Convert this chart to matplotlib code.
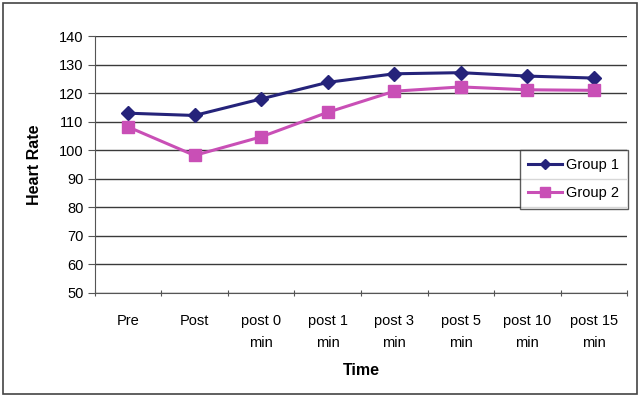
import numpy as np
import matplotlib.pyplot as plt
from matplotlib.patches import Rectangle

plt.rcParams['font.family'] = ['Liberation Sans', 'DejaVu Sans']

times = ['Pre', 'Post', 'post 0\nmin', 'post 1\nmin', 'post 3\nmin',
         'post 5\nmin', 'post 10\nmin', 'post 15\nmin']
group1 = [113.0, 112.2, 118.0, 123.8, 126.8, 127.2, 126.0, 125.3]
group2 = [108.2, 98.2, 104.7, 113.3, 120.7, 122.2, 121.2, 121.0]
yticks = list(range(50, 141, 10))

NAVY = '#25237a'
PINK = '#c94fb6'

fig = plt.figure(figsize=(6.4, 3.97), dpi=100)
ax = fig.add_axes([0.148, 0.262, 0.832, 0.647])

x = np.arange(len(times))
ax.plot(x, group1, color=NAVY, lw=2.2, marker='D', ms=7, label='Group 1')
ax.plot(x, group2, color=PINK, lw=2.2, marker='s', ms=8.5, label='Group 2')

ax.set_xlim(-0.5, len(times) - 0.5)
ax.set_ylim(50, 140)
ax.set_yticks(yticks)
ax.yaxis.grid(True, color='#3a3a3a', lw=1.0)
ax.set_axisbelow(True)

# category labels sit between the boundary tick marks
ax.set_xticks(np.arange(len(times) + 1) - 0.5)
ax.set_xticklabels([])
ax.set_xticks(x, minor=True)
ax.set_xticklabels(times, minor=True, fontsize=10.5, linespacing=1.7)
ax.tick_params(axis='x', which='minor', length=0, pad=15)
ax.tick_params(axis='x', which='major', length=5, direction='inout', color='#555555')
ax.tick_params(axis='y', labelsize=10.5, length=5, color='#555555', pad=3)

for side in ('top', 'right'):
    ax.spines[side].set_visible(False)
ax.spines['left'].set_color('#555555')
ax.spines['bottom'].set_color('#555555')

ax.set_ylabel('Heart Rate', fontsize=11.5, fontweight='bold', labelpad=12)
ax.set_xlabel('Time', fontsize=11.5, fontweight='bold', labelpad=10)

leg = ax.legend(loc='upper left', bbox_to_anchor=(0.798, 0.558), fontsize=10.5,
                frameon=True, fancybox=False, edgecolor='#333333',
                handlelength=2.3, borderpad=0.6, labelspacing=0.95,
                handletextpad=0.3, markerscale=0.8, borderaxespad=0)
leg.get_frame().set_linewidth(1.0)

# outer frame around the whole chart
fig.patches.append(Rectangle((0.005, 0.008), 0.99, 0.984, transform=fig.transFigure,
                             fill=False, edgecolor='#444444', lw=1.2))

fig.savefig('out.png', dpi=100)
